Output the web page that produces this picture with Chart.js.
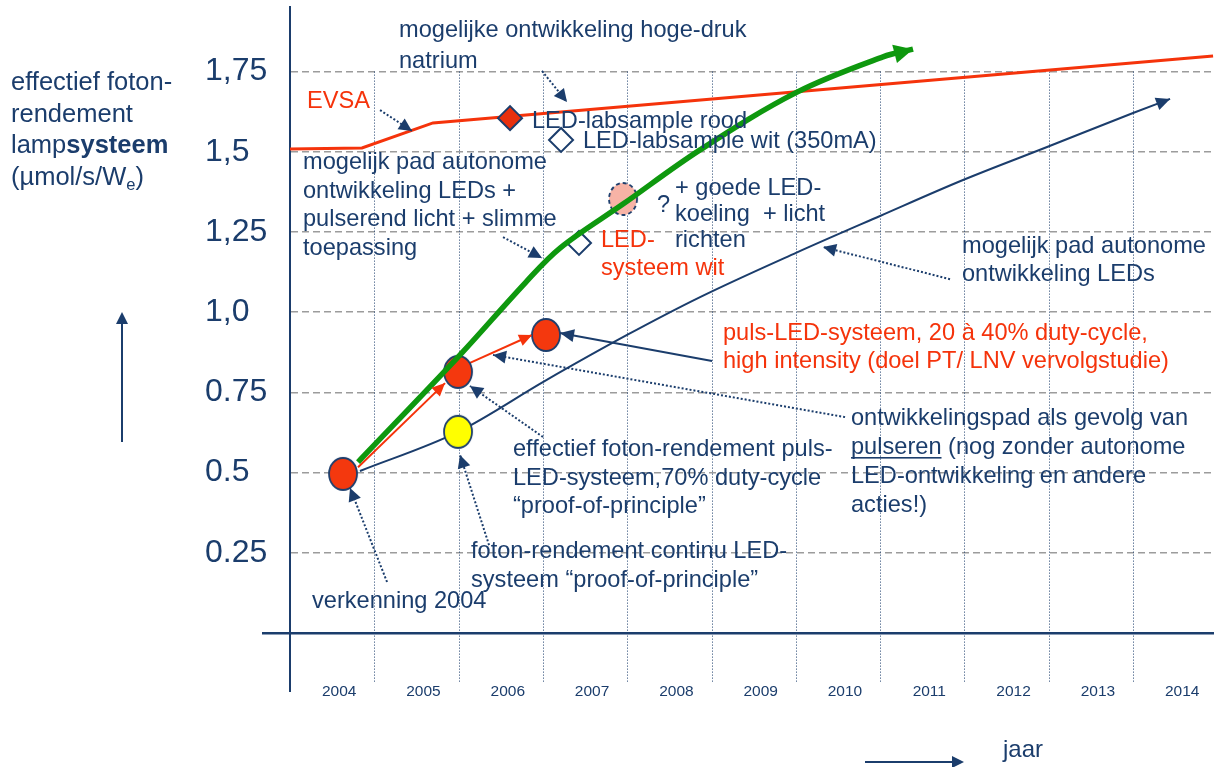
<!DOCTYPE html>
<html>
<head>
<meta charset="utf-8">
<title>effectief foton-rendement lampsysteem</title>
<script src="https://cdn.jsdelivr.net/npm/chart.js@4.4.1/dist/chart.umd.min.js"></script>
<style>
    html, body { margin: 0; padding: 0; background: #fff; overflow: hidden; }
    #wrap { width: 1214px; height: 767px; }
</style>
</head>
<body>
<div id="wrap"><canvas id="chart" width="1214" height="767"></canvas></div>
<script>
// ============================================
// DATA
// ============================================
const years = [2004, 2005, 2006, 2007, 2008, 2009, 2010, 2011, 2012, 2013, 2014];
const yTickValues = [0, 0.25, 0.5, 0.75, 1.0, 1.25, 1.5, 1.75];
const yTickLabels = ['', '0.25', '0.5', '0.75', '1,0', '1,25', '1,5', '1,75'];

// EVSA (hoge-druk natrium)
const evsaX = [2003.5, 2004.354, 2005.196, 2014.449];
const evsaY = [1.509, 1.512, 1.590, 1.799];

// mogelijk pad autonome ontwikkeling LEDs + pulserend licht + slimme toepassing
const greenX = [2004.307, 2005.517, 2006.288, 2006.703, 2007.450, 2008.364, 2009.514, 2010.534, 2010.890];
const greenY = [0.533, 0.867, 1.091, 1.200, 1.337, 1.506, 1.686, 1.796, 1.820];

// mogelijk pad autonome ontwikkeling LEDs
const autoX = [2004.330, 2005.493, 2006.525, 2007.498, 2008.364, 2009.502, 2010.499, 2011.483, 2012.480, 2013.500, 2013.939];
const autoY = [0.505, 0.627, 0.786, 0.929, 1.047, 1.185, 1.300, 1.412, 1.515, 1.621, 1.665];

// ontwikkelingspad pulseren (rode pijlen)
const pulsStepsFrom = [[2004.307, 0.517], [2005.635, 0.842]];
const pulsStepsTo = [[2005.339, 0.779], [2006.371, 0.929]];

// metingen
const redCircleX = [2004.129, 2005.493, 2006.537];
const redCircleY = [0.496, 0.814, 0.929];
const yellowCircleX = [2005.493];
const yellowCircleY = [0.627];
const pinkCircleX = [2007.450];
const pinkCircleY = [1.353];
const redDiamondX = [2006.110];
const redDiamondY = [1.605];
const whiteDiamondX = [2006.715, 2006.928];
const whiteDiamondY = [1.537, 1.216];

// verwijspijlen (gestippeld), van tekst naar punt
const pointerFrom = [
    [2006.489, 1.752], [2004.568, 1.630], [2006.027, 1.234], [2011.329, 1.103],
    [2004.651, 0.159], [2005.861, 0.274], [2006.501, 0.611], [2010.084, 0.673]
];
const pointerTo = [
    [2006.786, 1.655], [2004.947, 1.565], [2006.489, 1.169], [2009.823, 1.203],
    [2004.212, 0.452], [2005.517, 0.555], [2005.635, 0.770], [2005.908, 0.867]
];
// doorgetrokken pijl bij puls-LED-systeem
const pulsPointerFrom = [2008.506, 0.848];
const pulsPointerTo = [2006.703, 0.935];

// ============================================
// STYLE
// ============================================
const NAVY = '#1B3D6C';
const RED = '#F5330B';
const GREEN = '#0E980E';
const FONT = "'Liberation Sans', Arial, Helvetica, sans-serif";
const TEXT_SIZE = 23.6;

function pts(xs, ys) {
    return xs.map((x, i) => ({ x: x, y: ys[i] }));
}

function makeEllipse(fill, stroke, dashed) {
    const c = document.createElement('canvas');
    c.width = 32;
    c.height = 36;
    const g = c.getContext('2d');
    g.beginPath();
    g.ellipse(16, 18, 14, 16, 0, 0, Math.PI * 2);
    g.fillStyle = fill;
    g.fill();
    g.lineWidth = 1.8;
    g.strokeStyle = stroke;
    if (dashed) g.setLineDash([4, 3]);
    g.stroke();
    return c;
}

// tekstblokken (pixelposities, lay-out)
const textBlocks = [
    { x: 11, y: 90, lh: 31.7, size: 25.5, lines: ['effectief foton-', 'rendement',
        [{ t: 'lamp' }, { t: 'systeem', bold: true }],
        [{ t: '(µmol/s/W' }, { t: 'e', sub: true }, { t: ')' }]] },
    { x: 399, y: 37, lh: 31, lines: ['mogelijke ontwikkeling hoge-druk', 'natrium'] },
    { x: 307, y: 108, color: RED, lines: ['EVSA'] },
    { x: 532, y: 128, lines: ['LED-labsample rood'] },
    { x: 583, y: 148, lines: ['LED-labsample wit (350mA)'] },
    { x: 303, y: 169, lh: 28.6, lines: ['mogelijk pad autonome', 'ontwikkeling LEDs +', 'pulserend licht + slimme', 'toepassing'] },
    { x: 657, y: 212, lines: ['?'] },
    { x: 675, y: 195, lh: 26, lines: ['+ goede LED-', 'koeling  + licht', 'richten'] },
    { x: 601, y: 247, lh: 28, color: RED, lines: ['LED-', 'systeem wit'] },
    { x: 962, y: 253, lh: 28, lines: ['mogelijk pad autonome', 'ontwikkeling LEDs'] },
    { x: 723, y: 340, lh: 28, color: RED, lines: ['puls-LED-systeem, 20 à 40% duty-cycle,', 'high intensity (doel PT/ LNV vervolgstudie)'] },
    { x: 851, y: 425, lh: 29, lines: ['ontwikkelingspad als gevolg van',
        [{ t: 'pulseren', underline: true }, { t: ' (nog zonder autonome' }],
        'LED-ontwikkeling en andere', 'acties!)'] },
    { x: 513, y: 456, lh: 28.5, lines: ['effectief foton-rendement puls-', 'LED-systeem,70% duty-cycle', '“proof-of-principle”'] },
    { x: 471, y: 558, lh: 29, lines: ['foton-rendement continu LED-', 'systeem “proof-of-principle”'] },
    { x: 312, y: 608, lines: ['verkenning 2004'] },
    { x: 1003, y: 757, size: 24, lines: ['jaar'] }
];

// ============================================
// DATASETS
// ============================================
const datasets = [];

datasets.push({
    label: 'EVSA', data: pts(evsaX, evsaY),
    borderColor: RED, borderWidth: 3, pointRadius: 0, order: 6
});
datasets.push({
    label: 'autonome ontwikkeling LEDs', data: pts(autoX, autoY),
    borderColor: NAVY, borderWidth: 2, pointRadius: 0,
    cubicInterpolationMode: 'monotone', arrow: { len: 14, half: 6.5, color: NAVY }, order: 5
});
pulsStepsFrom.forEach((p, i) => {
    datasets.push({
        label: 'puls stap ' + (i + 1), data: [{ x: p[0], y: p[1] }, { x: pulsStepsTo[i][0], y: pulsStepsTo[i][1] }],
        borderColor: RED, borderWidth: 2, pointRadius: 0, arrow: { len: 13, half: 6, color: RED }, order: 4
    });
});
pointerFrom.forEach((p, i) => {
    datasets.push({
        label: 'verwijzing ' + (i + 1), data: [{ x: p[0], y: p[1] }, { x: pointerTo[i][0], y: pointerTo[i][1] }],
        borderColor: NAVY, borderWidth: 2, borderDash: [2, 2], pointRadius: 0,
        arrow: { len: 13, half: 6.5, color: NAVY }, order: 4
    });
});
datasets.push({
    label: 'verwijzing puls-LED', data: [{ x: pulsPointerFrom[0], y: pulsPointerFrom[1] }, { x: pulsPointerTo[0], y: pulsPointerTo[1] }],
    borderColor: NAVY, borderWidth: 2, pointRadius: 0, arrow: { len: 14, half: 6.5, color: NAVY }, order: 4
});
datasets.push({
    label: 'goede koeling', data: pts(pinkCircleX, pinkCircleY), showLine: false,
    pointStyle: makeEllipse('#F7B3A6', NAVY, true), pointRadius: 15, order: 3
});
datasets.push({
    label: 'continu LED', data: pts(yellowCircleX, yellowCircleY), showLine: false,
    pointStyle: makeEllipse('#FFFF00', NAVY, false), pointRadius: 15, order: 2
});
datasets.push({
    label: 'puls-LED', data: pts(redCircleX, redCircleY), showLine: false,
    pointStyle: makeEllipse('#F4380E', NAVY, false), pointRadius: 15, order: 2
});
datasets.push({
    label: 'LED-labsample rood', data: pts(redDiamondX, redDiamondY), showLine: false,
    pointStyle: 'rectRot', pointRadius: 12, backgroundColor: '#E8300E', borderColor: NAVY, pointBorderWidth: 2, order: 2
});
datasets.push({
    label: 'LED-labsample wit', data: pts(whiteDiamondX, whiteDiamondY), showLine: false,
    pointStyle: 'rectRot', pointRadius: 12, backgroundColor: '#FFFFFF', borderColor: NAVY, pointBorderWidth: 2, order: 2
});
datasets.push({
    label: 'pad LEDs + pulseren', data: pts(greenX, greenY),
    borderColor: GREEN, borderWidth: 5.5, pointRadius: 0,
    tension: 0.35, arrow: { len: 19, half: 9.5, color: GREEN }, order: 1
});

// ============================================
// PLUGINS
// ============================================
function arrowHead(ctx, fromX, fromY, tipX, tipY, len, half, color) {
    const a = Math.atan2(tipY - fromY, tipX - fromX);
    const bx = tipX - len * Math.cos(a);
    const by = tipY - len * Math.sin(a);
    ctx.save();
    ctx.fillStyle = color;
    ctx.beginPath();
    ctx.moveTo(tipX, tipY);
    ctx.lineTo(bx - half * Math.sin(a), by + half * Math.cos(a));
    ctx.lineTo(bx + half * Math.sin(a), by - half * Math.cos(a));
    ctx.closePath();
    ctx.fill();
    ctx.restore();
}

const yearGridPlugin = {
    id: 'yearGrid',
    beforeDatasetsDraw(chart) {
        const { ctx, chartArea, scales } = chart;
        const top = scales.y.getPixelForValue(1.75);
        ctx.save();
        ctx.strokeStyle = NAVY;
        ctx.lineWidth = 1;
        ctx.setLineDash([1, 2]);
        years.slice(0, -1).forEach(yr => {
            const px = Math.round(scales.x.getPixelForValue(yr + 0.5)) + 0.5;
            ctx.beginPath();
            ctx.moveTo(px, top);
            ctx.lineTo(px, chartArea.bottom);
            ctx.stroke();
        });
        // as iets doorgetrokken onder het plot
        ctx.setLineDash([]);
        ctx.lineWidth = 2;
        ctx.beginPath();
        ctx.moveTo(chartArea.left, chartArea.bottom);
        ctx.lineTo(chartArea.left, chartArea.bottom + 10);
        ctx.stroke();
        ctx.restore();
    }
};

const arrowPlugin = {
    id: 'arrows',
    afterDatasetsDraw(chart) {
        const ctx = chart.ctx;
        chart.data.datasets.forEach((ds, i) => {
            if (!ds.arrow) return;
            const meta = chart.getDatasetMeta(i);
            const n = meta.data.length;
            if (n < 2) return;
            const p1 = meta.data[n - 2];
            const p2 = meta.data[n - 1];
            arrowHead(ctx, p1.x, p1.y, p2.x, p2.y, ds.arrow.len, ds.arrow.half, ds.arrow.color);
        });
    }
};

function drawBlock(ctx, block) {
    const size = block.size || TEXT_SIZE;
    const lh = block.lh || 28;
    ctx.fillStyle = block.color || NAVY;
    ctx.textBaseline = 'alphabetic';
    ctx.textAlign = 'left';
    block.lines.forEach((line, i) => {
        const segs = typeof line === 'string' ? [{ t: line }] : line;
        let x = block.x;
        const y = block.y + i * lh;
        segs.forEach(s => {
            const fs = s.sub ? size * 0.65 : size;
            ctx.font = (s.bold ? 'bold ' : '') + fs + 'px ' + FONT;
            const dy = s.sub ? size * 0.2 : 0;
            ctx.fillText(s.t, x, y + dy);
            const w = ctx.measureText(s.t).width;
            if (s.underline) ctx.fillRect(x, y + 3, w, 1.6);
            x += w;
        });
    });
}

const textPlugin = {
    id: 'texts',
    afterDraw(chart) {
        const ctx = chart.ctx;
        ctx.save();
        textBlocks.forEach(b => drawBlock(ctx, b));
        // pijl omhoog naast de y-as titel
        ctx.strokeStyle = NAVY;
        ctx.lineWidth = 2;
        ctx.beginPath();
        ctx.moveTo(122, 442);
        ctx.lineTo(122, 322);
        ctx.stroke();
        arrowHead(ctx, 122, 442, 122, 312, 12, 6, NAVY);
        // pijl naar rechts bij "jaar"
        ctx.beginPath();
        ctx.moveTo(865, 762);
        ctx.lineTo(955, 762);
        ctx.stroke();
        arrowHead(ctx, 865, 762, 964, 762, 12, 6, NAVY);
        ctx.restore();
    }
};

// ============================================
// CHART
// ============================================
new Chart(document.getElementById('chart'), {
    type: 'line',
    data: { datasets: datasets },
    options: {
        responsive: false,
        animation: false,
        layout: { autoPadding: false, padding: { left: 205, top: 7, right: 0, bottom: 0 } },
        plugins: {
            legend: { display: false },
            tooltip: { enabled: false }
        },
        scales: {
            x: {
                type: 'linear',
                min: 2003.5,
                max: 2014.46,
                afterBuildTicks: axis => { axis.ticks = years.map(v => ({ value: v })); },
                afterFit: axis => {
                    axis.height = 85;
                    axis.paddingLeft = 0;
                    axis.paddingRight = 0;
                },
                grid: { display: false, drawTicks: false },
                border: { display: false },
                ticks: {
                    autoSkip: false,
                    maxRotation: 0,
                    padding: 0,
                    labelOffset: 7,
                    color: NAVY,
                    font: { family: FONT, size: 15.5 },
                    callback: v => String(v)
                }
            },
            y: {
                type: 'linear',
                min: -0.1527,
                max: 1.9514,
                afterBuildTicks: axis => { axis.ticks = yTickValues.map(v => ({ value: v })); },
                afterFit: axis => {
                    axis.width = 85;
                    axis.paddingTop = 0;
                    axis.paddingBottom = 0;
                },
                grid: {
                    color: c => (c.tick && c.tick.value === 0 ? NAVY : '#9C9C9C'),
                    lineWidth: c => (c.tick && c.tick.value === 0 ? 2.5 : 1.5),
                    drawTicks: true,
                    tickLength: 28,
                    tickWidth: 2.5,
                    tickColor: c => (c.tick && c.tick.value === 0 ? NAVY : 'rgba(0,0,0,0)')
                },
                border: {
                    display: true,
                    color: NAVY,
                    width: 2,
                    dash: c => (c.tick && c.tick.value === 0 ? [] : [7, 4])
                },
                ticks: {
                    autoSkip: false,
                    crossAlign: 'far',
                    padding: 0,
                    color: NAVY,
                    font: { family: FONT, size: 32 },
                    callback: v => {
                        const i = yTickValues.indexOf(v);
                        return i >= 0 ? yTickLabels[i] : '';
                    }
                }
            }
        }
    },
    plugins: [yearGridPlugin, arrowPlugin, textPlugin]
});
</script>
</body>
</html>
